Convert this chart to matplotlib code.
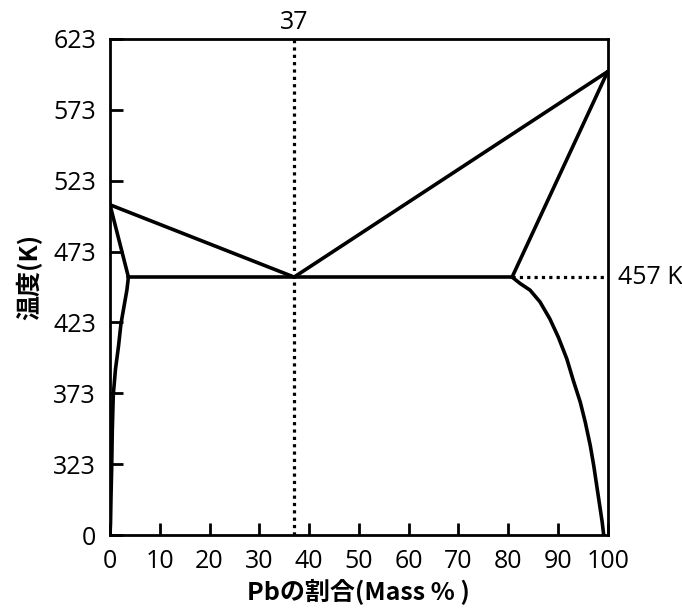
import matplotlib
matplotlib.use("Agg")
import matplotlib.pyplot as plt

# Sn-Pb phase diagram
y_ticks = [273, 323, 373, 423, 473, 523, 573, 623]
y_tick_labels = ["0", "323", "373", "423", "473", "523", "573", "623"]
x_ticks = [0, 10, 20, 30, 40, 50, 60, 70, 80, 90, 100]

eutectic_x = 37
eutectic_T = 455
sn_melt = 506
pb_melt = 600

# liquidus
liquidus_left_x = [0, eutectic_x]
liquidus_left_T = [sn_melt, eutectic_T]
liquidus_right_x = [eutectic_x, 100]
liquidus_right_T = [eutectic_T, pb_melt]

# solidus
solidus_left_x = [0, 3.7]
solidus_left_T = [sn_melt, eutectic_T]
solidus_right_x = [80.8, 100]
solidus_right_T = [eutectic_T, pb_melt]

# eutectic line
eut_line_x = [3.7, 80.8]
eut_line_T = [eutectic_T, eutectic_T]

# solvus curves
solvus_left_x = [3.7, 3.4, 2.8, 2.2, 1.7, 1.1, 0.66, 0.46, 0.34, 0.2, 0.1, 0]
solvus_left_T = [455, 446, 434, 422, 406, 390, 372, 347, 321, 300, 281, 273]
solvus_right_x = [80.8, 82.4, 84.4, 86.4, 88.4, 90.1, 91.8, 93.1, 94.5, 95.5,
                  96.5, 97.2, 97.8, 98.4, 98.9, 99.2]
solvus_right_T = [455, 450.5, 445.8, 437.5, 425.4, 412.5, 397.2, 382, 366.7, 352.6,
                  336.2, 322, 307.9, 293.8, 282.1, 273]

cjk = ["Noto Sans CJK JP", "DejaVu Sans"]
num_font = "Open Sans"

fig = plt.figure(figsize=(6.82, 6.12), dpi=100)
ax = fig.add_axes([0.1613, 0.1258, 0.7297, 0.8105])

lw = 2.6
for xs, ts in [(liquidus_left_x, liquidus_left_T), (liquidus_right_x, liquidus_right_T),
               (solidus_left_x, solidus_left_T), (solidus_right_x, solidus_right_T),
               (eut_line_x, eut_line_T), (solvus_left_x, solvus_left_T),
               (solvus_right_x, solvus_right_T)]:
    ax.plot(xs, ts, color="black", lw=lw, solid_joinstyle="round", solid_capstyle="round")

# dotted guide lines
ax.plot([eutectic_x, eutectic_x], [273, 623], color="black", lw=2.3, linestyle=(0, (1, 1.3)))
ax.plot([80.8, 100], [eutectic_T, eutectic_T], color="black", lw=2.3, linestyle=(0, (1, 1.3)))

ax.set_xlim(0, 100)
ax.set_ylim(273, 623)
ax.set_xticks(x_ticks)
ax.set_yticks(y_ticks)
ax.set_yticklabels(y_tick_labels)

for s in ax.spines.values():
    s.set_linewidth(2.0)
ax.tick_params(direction="in", length=9, width=2.0, labelsize=18, pad=10)
ax.tick_params(axis="y", pad=10)
for lab in ax.get_xticklabels() + ax.get_yticklabels():
    lab.set_family(num_font)

ax.text(eutectic_x, 626, "37", ha="center", va="bottom", fontsize=18, family=num_font)
ax.text(102, eutectic_T, "457 K", ha="left", va="center", fontsize=18, family=num_font)

ax.set_xlabel("Pbの割合(Mass % )", fontsize=18, fontweight="bold", family=cjk, labelpad=4)
ax.set_ylabel("温度(K)", fontsize=18, fontweight="bold", family=cjk)
ax.yaxis.set_label_coords(-0.135, 0.52)

fig.savefig("out.png", dpi=100)
